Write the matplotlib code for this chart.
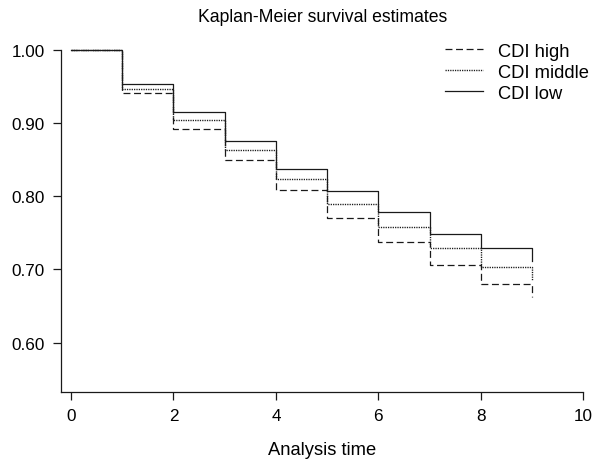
import matplotlib
matplotlib.use("Agg")
import matplotlib.pyplot as plt

plt.rcParams['font.family'] = ['Liberation Sans', 'DejaVu Sans']
plt.rcParams['lines.scale_dashes'] = False

# Kaplan-Meier step values (event times 0..9)
times = [0, 1, 2, 3, 4, 5, 6, 7, 8, 9]
surv_high = [1.0, 0.941, 0.892, 0.850, 0.809, 0.770, 0.738, 0.706, 0.680, 0.663]
surv_middle = [1.0, 0.947, 0.904, 0.864, 0.824, 0.790, 0.758, 0.729, 0.704, 0.685]
surv_low = [1.0, 0.953, 0.915, 0.876, 0.838, 0.807, 0.779, 0.749, 0.730, 0.712]

fig = plt.figure(figsize=(5.95, 4.6), dpi=100)
ax = fig.add_axes([0.1025, 0.145, 0.8778, 0.744])

lc = '#1a1a1a'
ax.plot(times, surv_high, drawstyle='steps-post', color=lc, lw=0.9,
        dashes=(5, 2.6), label='CDI high', clip_on=False)
ax.plot(times, surv_middle, drawstyle='steps-post', color=lc, lw=1.0,
        dashes=(0.9, 0.8), label='CDI middle', clip_on=False)
ax.plot(times, surv_low, drawstyle='steps-post', color=lc, lw=0.9,
        label='CDI low', clip_on=False)

ax.set_xlim(-0.195, 10)
ax.set_ylim(0.532, 1.0)
ax.set_xticks([0, 2, 4, 6, 8, 10])
ax.set_yticks([0.6, 0.7, 0.8, 0.9, 1.0])
ax.set_yticklabels(['%.2f' % v for v in [0.6, 0.7, 0.8, 0.9, 1.0]])

for s in ['top', 'right']:
    ax.spines[s].set_visible(False)
for s in ['left', 'bottom']:
    ax.spines[s].set_linewidth(0.9)
    ax.spines[s].set_color(lc)

ax.tick_params(axis='both', direction='out', length=5.5, width=0.9,
               color=lc, labelsize=12.3)
ax.tick_params(axis='y', pad=6)
ax.tick_params(axis='x', pad=6)

ax.set_xlabel('Analysis time', fontsize=13.2, labelpad=13)
fig.text(0.5414, 0.962, 'Kaplan-Meier survival estimates', ha='center',
         va='center', fontsize=12.7)

ax.legend(loc='upper left', bbox_to_anchor=(0.735, 1.022), frameon=False,
          fontsize=13.2, handlelength=2.1, handletextpad=0.78,
          labelspacing=0.22, borderaxespad=0.0, borderpad=0.0)

fig.savefig('out.png', dpi=100)
